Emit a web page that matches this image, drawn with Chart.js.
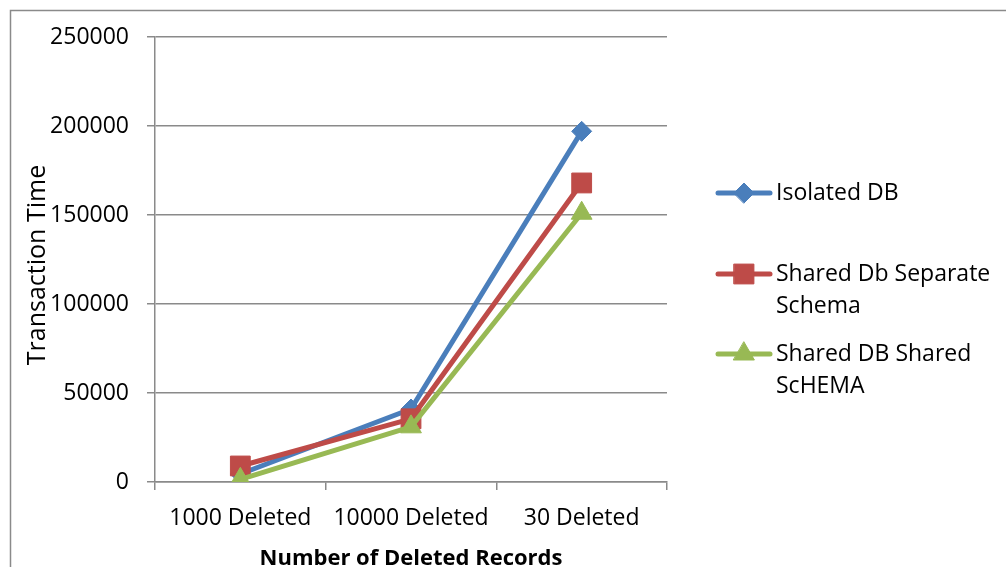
<!DOCTYPE html>
<html>
<head>
<meta charset="utf-8">
<script src="https://cdn.jsdelivr.net/npm/chart.js@4.4.1/dist/chart.umd.min.js"></script>
<style>
  html, body { margin: 0; padding: 0; background: #fff; }
  #wrap { width: 1006px; height: 567px; position: relative; }
</style>
</head>
<body>
<div id="wrap"><canvas id="chart"></canvas></div>
<script>

  /*
    ==================================================
    ====================== DATA ======================
    ==================================================
  */

  let categories = ['1000 Deleted', '10000 Deleted', '30 Deleted'];
  let isolatedDb = [4500, 41000, 197000];
  let sharedDbSeparate = [9000, 35500, 168000];
  let sharedDbShared = [1500, 31000, 151000];
  let yTicks = [0, 50000, 100000, 150000, 200000, 250000];
  let seriesNames = [
    ['Isolated DB'],
    ['Shared Db Separate', 'Schema'],
    ['Shared DB Shared', 'ScHEMA']
  ];
  let yTitle = 'Transaction Time';
  let xTitle = 'Number of Deleted Records';

  /*
    ==================================================
    ===================== STYLE ======================
    ==================================================
  */

  let font = 'Open Sans';
  let gridColor = '#8a8a8a';

  function serie(label, data, color, pointStyle, radius, order) {
    return {
      label,
      data,
      borderColor: color,
      backgroundColor: color,
      borderWidth: 5,
      pointStyle,
      pointRadius: radius,
      pointHoverRadius: radius,
      pointBorderWidth: 1,
      pointBackgroundColor: color,
      pointBorderColor: color,
      tension: 0,
      order
    };
  }

  /*
    ==================================================
    ==================== PLUGINS =====================
    ==================================================
  */

  let framePlugin = {
    id: 'frame',
    beforeDraw(chart) {
      let { ctx } = chart;
      ctx.save();
      ctx.fillStyle = '#fff';
      ctx.fillRect(0, 0, chart.width, chart.height);
      ctx.strokeStyle = '#8a8a8a';
      ctx.lineWidth = 1.5;
      ctx.strokeRect(10.5, 10.5, chart.width + 50, chart.height + 50);
      ctx.restore();
    },
    afterDraw(chart) {
      let { ctx } = chart;
      ctx.save();
      ctx.fillStyle = '#000';
      ctx.font = `25px "${font}"`;
      ctx.textAlign = 'center';
      ctx.textBaseline = 'middle';
      ctx.translate(38, 265);
      ctx.rotate(-Math.PI / 2);
      ctx.fillText(yTitle, 0, 0);
      ctx.restore();
    }
  };

  let legendPlugin = {
    id: 'sideLegend',
    afterDraw(chart) {
      let { ctx } = chart;
      let rowsY = [193, 274, 354];
      let x0 = chart.chartArea.right + 51;

      chart.data.datasets.forEach((ds, i) => {
        let y = rowsY[i];
        ctx.save();
        ctx.strokeStyle = ds.borderColor;
        ctx.lineWidth = ds.borderWidth;
        ctx.lineCap = 'round';
        ctx.beginPath();
        ctx.moveTo(x0, y);
        ctx.lineTo(x0 + 52, y);
        ctx.stroke();

        ctx.fillStyle = ds.pointBackgroundColor;
        ctx.strokeStyle = ds.pointBorderColor;
        ctx.lineWidth = 1;
        Chart.helpers.drawPoint(ctx, {
          pointStyle: ds.pointStyle,
          radius: ds.pointRadius,
          rotation: 0,
          borderWidth: 1
        }, x0 + 26, y);

        ctx.fillStyle = '#000';
        ctx.font = `23px "${font}"`;
        ctx.textAlign = 'left';
        ctx.textBaseline = 'middle';
        ds.label.forEach((line, k) => ctx.fillText(line, x0 + 58, y + k * 32));
        ctx.restore();
      });
    }
  };

  /*
    ==================================================
    ===================== CHART ======================
    ==================================================
  */

  new Chart(document.getElementById('chart').getContext('2d'), {
    type: 'line',
    data: {
      labels: categories,
      datasets: [
        serie(seriesNames[0], isolatedDb, '#4a7ebb', 'rectRot', 10, 3),
        serie(seriesNames[1], sharedDbSeparate, '#be4b48', 'rect', 14, 2),
        serie(seriesNames[2], sharedDbShared, '#98b954', 'triangle', 12, 1)
      ]
    },
    options: {
      responsive: true,
      maintainAspectRatio: false,
      animation: false,
      events: [],
      layout: { padding: { left: 0, top: 37, right: 339, bottom: 0 } },
      plugins: {
        legend: { display: false },
        tooltip: { enabled: false }
      },
      scales: {
        x: {
          offset: true,
          grid: {
            offset: true,
            drawOnChartArea: false,
            drawTicks: true,
            tickLength: 8,
            color: gridColor,
            lineWidth: 1.5
          },
          border: { color: gridColor, width: 1.5 },
          ticks: {
            color: '#000',
            padding: 15,
            font: { family: font, size: 23 },
            maxRotation: 0,
            autoSkip: false
          },
          title: {
            display: true,
            text: xTitle,
            color: '#000',
            font: { family: font, size: 22, weight: 'bold' },
            padding: { top: 0, bottom: -5 }
          },
          afterFit: scale => { scale.height = 85; }
        },
        y: {
          min: yTicks[0],
          max: yTicks[yTicks.length - 1],
          afterBuildTicks: scale => { scale.ticks = yTicks.map(value => ({ value })); },
          grid: {
            color: gridColor,
            lineWidth: 1.5,
            drawTicks: true,
            tickLength: 8
          },
          border: { color: gridColor, width: 1.5 },
          ticks: {
            color: '#000',
            padding: 18,
            font: { family: font, size: 23 },
            callback: value => String(value)
          },
          afterFit: scale => { scale.width = 155; }
        }
      }
    },
    plugins: [framePlugin, legendPlugin]
  });

</script>
</body>
</html>
